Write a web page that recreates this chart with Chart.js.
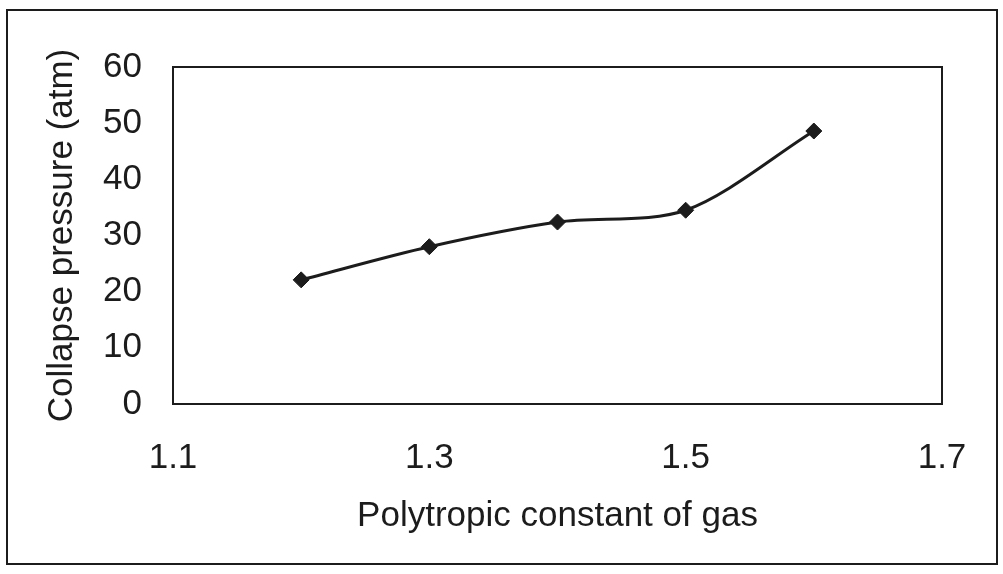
<!DOCTYPE html>
<html>
<head>
<meta charset="utf-8">
<title>Collapse pressure</title>
<script src="https://cdn.jsdelivr.net/npm/chart.js@4/dist/chart.umd.min.js"></script>
<style>
  html, body { margin: 0; padding: 0; background: #fff; }
  #wrap { width: 1003px; height: 574px; }
</style>
</head>
<body>
<div id="wrap"><canvas id="chart" width="1003" height="574"></canvas></div>
<script>
// polytropic constant vs collapse pressure
const gamma = [1.2, 1.3, 1.4, 1.5, 1.6];
const pressure = [22.1, 28, 32.4, 34.5, 48.6];
const xTicks = [1.1, 1.3, 1.5, 1.7];
const yTicks = [0, 10, 20, 30, 40, 50, 60];

const ink = '#1c1c1c';
const font = { family: "'Liberation Sans', Arial, sans-serif", size: 35 };

// white page, box round the plot area, and the outer frame
const frames = {
  id: 'frames',
  beforeDraw(chart) {
    const ctx = chart.ctx;
    ctx.save();
    ctx.fillStyle = '#fff';
    ctx.fillRect(0, 0, chart.width, chart.height);
    ctx.restore();
  },
  afterDraw(chart) {
    const ctx = chart.ctx;
    const a = chart.chartArea;
    ctx.save();
    ctx.strokeStyle = ink;
    ctx.lineWidth = 2;
    ctx.strokeRect(a.left, a.top, a.right - a.left, a.bottom - a.top);
    ctx.strokeRect(7, 10, 990, 554);
    ctx.restore();
  }
};

new Chart(document.getElementById('chart'), {
  type: 'line',
  data: {
    datasets: [{
      data: gamma.map((g, i) => ({ x: g, y: pressure[i] })),
      borderColor: ink,
      borderWidth: 3,
      tension: 0.3,
      pointStyle: 'rectRot',
      pointRadius: 8,
      pointBackgroundColor: ink,
      pointBorderColor: ink,
      pointBorderWidth: 1
    }]
  },
  options: {
    responsive: false,
    animation: false,
    layout: { padding: { left: 20, top: 67, right: 61, bottom: 20 } },
    plugins: { legend: { display: false }, tooltip: { enabled: false } },
    scales: {
      x: {
        type: 'linear',
        min: 1.1,
        max: 1.7,
        afterBuildTicks: s => { s.ticks = xTicks.map(v => ({ value: v })); },
        afterFit: s => { s.height = 574 - 20 - 404; },
        grid: { display: false, drawTicks: false },
        border: { display: false },
        ticks: {
          padding: 33,
          color: ink,
          font: font,
          maxRotation: 0,
          callback: v => v.toFixed(1)
        },
        title: {
          display: true,
          text: 'Polytropic constant of gas',
          color: ink,
          font: font,
          padding: { top: 0, bottom: 17 }
        }
      },
      y: {
        min: 0,
        max: 60,
        afterBuildTicks: s => { s.ticks = yTicks.map(v => ({ value: v })); },
        afterFit: s => { s.width = 173 - 20; },
        grid: { display: false, drawTicks: false },
        border: { display: false },
        ticks: { padding: 31, color: ink, font: font },
        title: {
          display: true,
          text: 'Collapse pressure (atm)',
          color: ink,
          font: font,
          padding: { top: 21, bottom: 0 }
        }
      }
    }
  },
  plugins: [frames]
});
</script>
</body>
</html>
